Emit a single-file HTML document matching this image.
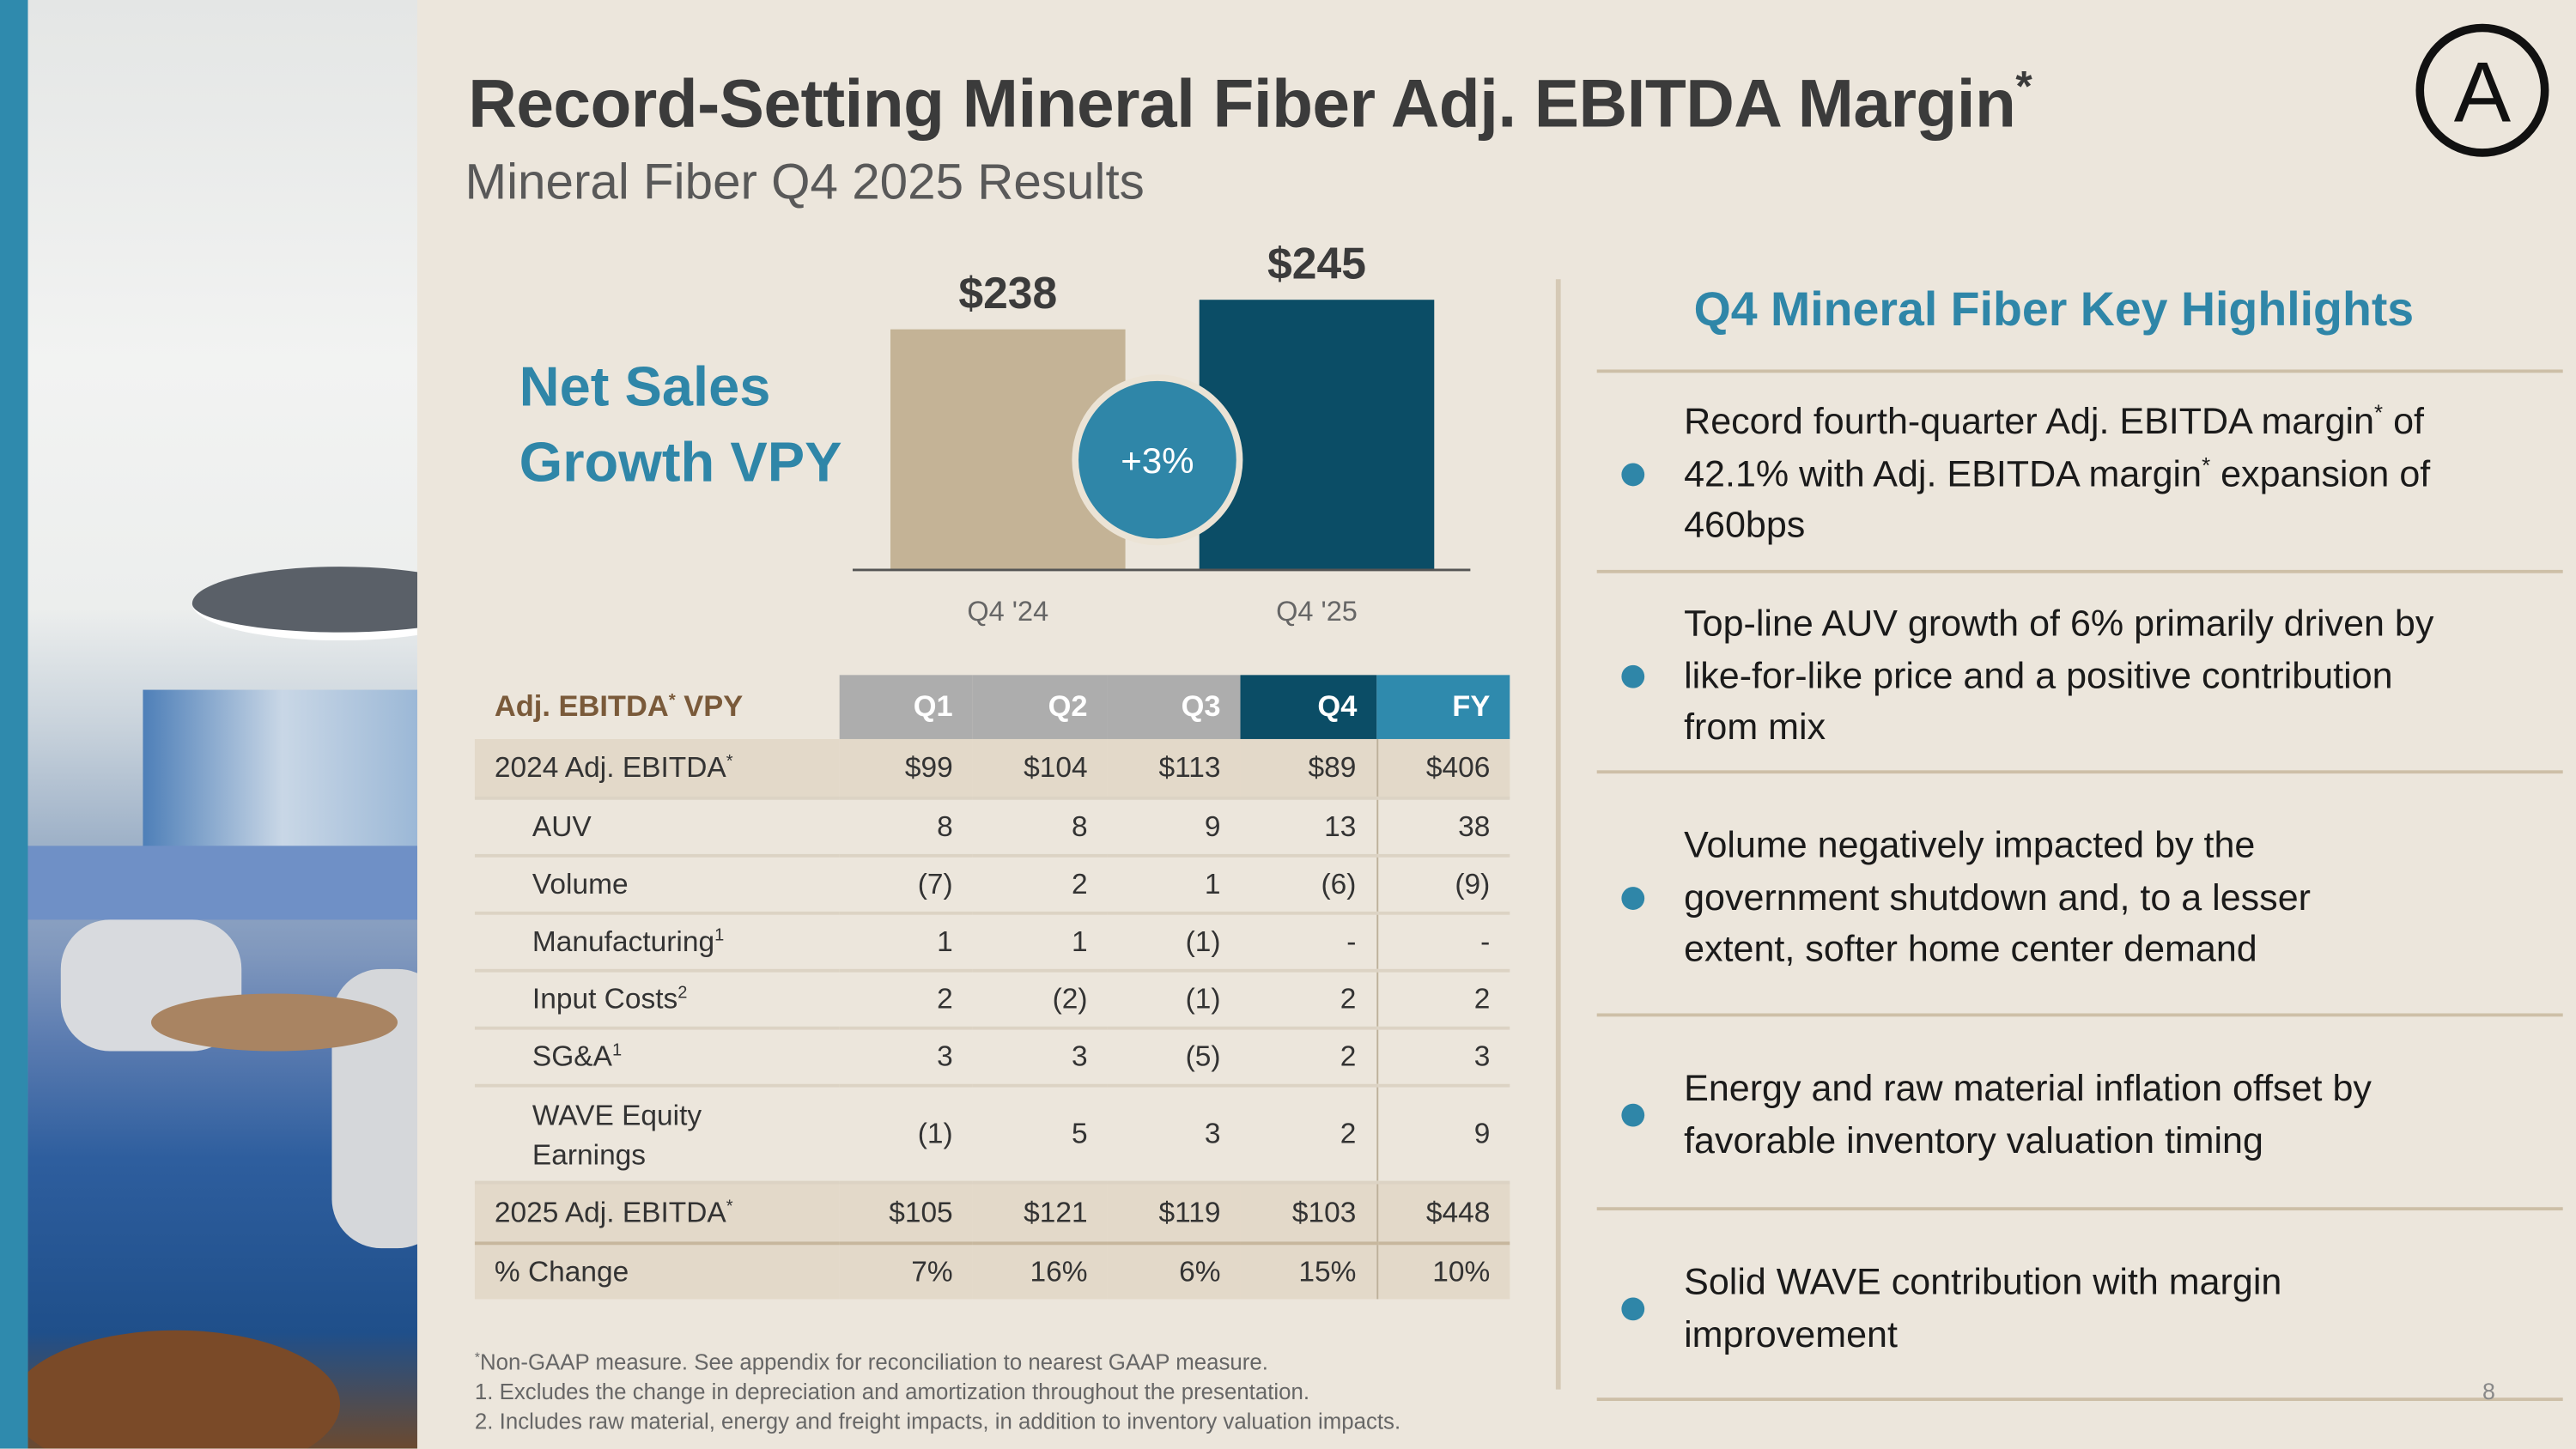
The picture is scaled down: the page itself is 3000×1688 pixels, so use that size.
<!DOCTYPE html>
<html><head><meta charset="utf-8">
<style>
html,body{margin:0;padding:0;}
body{width:3000px;height:1687px;overflow:hidden;background:#ece6dc;}
#s{position:absolute;left:0;top:0;width:1568px;height:882px;transform:scale(1.91327);transform-origin:0 0;background:#ece6dc;font-family:"Liberation Sans",sans-serif;color:#222;}
.a{position:absolute;white-space:nowrap;}
table{border-collapse:collapse;position:absolute;left:289px;top:411px;width:630px;font-size:17.5px;color:#333;table-layout:fixed;}
td{padding:0 12px 0 0;text-align:right;border-bottom:2px solid #dcd3c4;}
td:first-child{text-align:left;padding-left:12px;}
td.fy{border-left:1px solid #bdb09a;}
tr.f td{background:#e3d9c9;}
tr.i td:first-child{padding-left:35px;}
.hl{position:absolute;left:972px;width:588px;height:2px;background:#cdbfa7;}
.bt{position:absolute;left:1025px;width:500px;font-size:22.5px;line-height:31.5px;color:#1a1a1a;}
.dot{position:absolute;left:987px;width:14px;height:14px;border-radius:50%;background:#2f86a8;}
sup{font-size:60%;line-height:0;vertical-align:0.6em;}
</style></head><body>
<div id="s">
 <div class="a" style="left:0;top:0;width:17px;height:882px;background:#2f8aad"></div>
 <div class="a" style="left:17px;top:0;width:237px;height:882px;overflow:hidden;background:linear-gradient(180deg,#e4e6e5 0%,#f2f3f2 25%,#eceeed 42%,#c9d3dc 50%,#9fb2c8 58%,#7f97bd 66%,#5a7bb0 72%,#2e5e9e 80%,#1f4f8a 92%,#6b4a30 100%)">
  <div style="position:absolute;left:100px;top:345px;width:180px;height:40px;border-radius:50%;background:#5a6068;border-bottom:5px solid #fff"></div>
  <div style="position:absolute;left:70px;top:420px;width:170px;height:100px;background:linear-gradient(90deg,#4e7fb8,#c9d7e6,#9ab7d6)"></div>
  <div style="position:absolute;left:0;top:515px;width:237px;height:45px;background:#6f90c6"></div>
  <div style="position:absolute;left:20px;top:560px;width:110px;height:80px;border-radius:30px;background:#d8dade"></div>
  <div style="position:absolute;left:185px;top:590px;width:70px;height:170px;border-radius:30px;background:#d5d7da"></div>
  <div style="position:absolute;left:75px;top:605px;width:150px;height:35px;border-radius:50%;background:#a98462"></div>
  <div style="position:absolute;left:-10px;top:810px;width:200px;height:90px;border-radius:50%;background:#7a4a28"></div>
 </div>
 <div class="a" style="left:285px;top:40px;font-size:41px;font-weight:bold;color:#3b3b3b;letter-spacing:-0.3px">Record-Setting Mineral Fiber Adj. EBITDA Margin<sup style="font-size:26px">*</sup></div>
 <div class="a" style="left:283px;top:94px;font-size:30.5px;color:#595959">Mineral Fiber Q4 2025 Results</div>
 <svg class="a" style="left:1468px;top:12px" width="90" height="88"><circle cx="43" cy="43" r="38" fill="none" stroke="#111" stroke-width="5"/><text x="43" y="62" text-anchor="middle" font-family="Liberation Sans" font-size="52" fill="#111">A</text></svg>

 <div class="a" style="left:316px;top:213px;font-size:34px;font-weight:bold;color:#2f86a8;line-height:46px">Net Sales<br>Growth VPY</div>

 <svg class="a" id="chart" style="left:0;top:0" width="960" height="400"></svg>

 <table>
  <colgroup><col style="width:222px"><col style="width:81px"><col style="width:82px"><col style="width:81px"><col style="width:83px"><col style="width:81px"></colgroup>
  <tr style="height:39px;font-weight:bold;font-size:18px"><td style="color:#7a5a3a;border:none">Adj. EBITDA<sup>*</sup> VPY</td><td style="background:#adadad;color:#fff;border:none">Q1</td><td style="background:#adadad;color:#fff;border:none">Q2</td><td style="background:#adadad;color:#fff;border:none">Q3</td><td style="background:#0b4d66;color:#fff;border:none">Q4</td><td style="background:#2f8aad;color:#fff;border:none">FY</td></tr>
  <tr class="f" style="height:36px"><td>2024 Adj. EBITDA<sup>*</sup></td><td>$99</td><td>$104</td><td>$113</td><td>$89</td><td class="fy">$406</td></tr>
  <tr class="i" style="height:35px"><td>AUV</td><td>8</td><td>8</td><td>9</td><td>13</td><td class="fy">38</td></tr>
  <tr class="i" style="height:35px"><td>Volume</td><td>(7)</td><td>2</td><td>1</td><td>(6)</td><td class="fy">(9)</td></tr>
  <tr class="i" style="height:35px"><td>Manufacturing<sup>1</sup></td><td>1</td><td>1</td><td>(1)</td><td>-</td><td class="fy">-</td></tr>
  <tr class="i" style="height:35px"><td>Input Costs<sup>2</sup></td><td>2</td><td>(2)</td><td>(1)</td><td>2</td><td class="fy">2</td></tr>
  <tr class="i" style="height:35px"><td>SG&amp;A<sup>1</sup></td><td>3</td><td>3</td><td>(5)</td><td>2</td><td class="fy">3</td></tr>
  <tr class="i" style="height:59px"><td style="line-height:24px">WAVE Equity<br>Earnings</td><td>(1)</td><td>5</td><td>3</td><td>2</td><td class="fy">9</td></tr>
  <tr class="f" style="height:37px"><td style="border-bottom:2px solid #c7b79d">2025 Adj. EBITDA<sup>*</sup></td><td style="border-bottom:2px solid #c7b79d">$105</td><td style="border-bottom:2px solid #c7b79d">$121</td><td style="border-bottom:2px solid #c7b79d">$119</td><td style="border-bottom:2px solid #c7b79d">$103</td><td class="fy" style="border-bottom:2px solid #c7b79d">$448</td></tr>
  <tr class="f" style="height:34px"><td style="border:none">% Change</td><td style="border:none">7%</td><td style="border:none">16%</td><td style="border:none">6%</td><td style="border:none">15%</td><td class="fy" style="border-bottom:none">10%</td></tr>
 </table>

 <div class="a" style="left:289px;top:821px;font-size:13.5px;line-height:18px;color:#666"><sup>*</sup>Non-GAAP measure. See appendix for reconciliation to nearest GAAP measure.<br>1. Excludes the change in depreciation and amortization throughout the presentation.<br>2. Includes raw material, energy and freight impacts, in addition to inventory valuation impacts.</div>

 <div class="a" style="left:947px;top:170px;width:3px;height:676px;background:#d5c9b5"></div>
 <div class="a" style="left:1031px;top:173px;font-size:29px;font-weight:bold;color:#2f86a8">Q4 Mineral Fiber Key Highlights</div>
 <div class="hl" style="top:225px"></div>
 <div class="hl" style="top:347px"></div>
 <div class="hl" style="top:469px"></div>
 <div class="hl" style="top:617px"></div>
 <div class="hl" style="top:735px"></div>
 <div class="hl" style="top:851px"></div>

 <div class="dot" style="top:282px"></div>
 <div class="bt" style="top:241px">Record fourth-quarter Adj. EBITDA margin<sup>*</sup> of 42.1% with Adj. EBITDA margin<sup>*</sup> expansion of 460bps</div>
 <div class="dot" style="top:405px"></div>
 <div class="bt" style="top:364px;width:480px">Top-line AUV growth of 6% primarily driven by like&#8209;for&#8209;like price and a positive contribution from mix</div>
 <div class="dot" style="top:540px"></div>
 <div class="bt" style="top:499px;width:440px">Volume negatively impacted by the government shutdown and, to a lesser extent, softer home center demand</div>
 <div class="dot" style="top:672px"></div>
 <div class="bt" style="top:647px;width:480px">Energy and raw material inflation offset by favorable inventory valuation timing</div>
 <div class="dot" style="top:790px"></div>
 <div class="bt" style="top:765px;width:420px">Solid WAVE contribution with margin improvement</div>
 <div class="a" style="left:1511px;top:839px;font-size:14px;color:#888">8</div>
</div>
<script>
const categories = ["Q4 '24", "Q4 '25"];
const salesValues = [238, 245];
const valueLabels = ["$238", "$245"];
const growthLabel = "+3%";
const barColors = ["#c4b396", "#0b4d66"];

const svg = document.getElementById('chart');
const NS = 'http://www.w3.org/2000/svg';
const baseY = 347, x0 = 542, step = 188, bw = 143;
const yMin = 181, pxPerUnit = 2.57;
function yScale(v){ return baseY - (v - yMin) * pxPerUnit; }
function xScale(i){ return x0 + i * step; }
function mk(tag, attrs){ const e = document.createElementNS(NS, tag); for (const k in attrs) e.setAttribute(k, attrs[k]); svg.appendChild(e); return e; }

salesValues.forEach((v, i) => {
  const r = mk('rect', {x: xScale(i), y: yScale(v), width: bw, height: baseY - yScale(v), fill: barColors[i]});
  
  
  const t = mk('text', {x: xScale(i) + bw / 2, y: yScale(v) - 13, 'text-anchor': 'middle', 'font-size': 27, 'font-weight': 'bold', fill: '#3b3b3b', 'font-family': 'Liberation Sans'});
  t.textContent = valueLabels[i];
  
  
  const c = mk('text', {x: xScale(i) + bw / 2, y: 378, 'text-anchor': 'middle', 'font-size': 17, fill: '#666', 'font-family': 'Liberation Sans'});
  c.textContent = categories[i];
  
  
});
const ax = mk('line', {x1: 519, x2: 895, y1: baseY, y2: baseY, stroke: '#555', 'stroke-width': 1.5});


const cx = (xScale(0) + bw + xScale(1)) / 2;
const circ = mk('circle', {cx: cx - 3, cy: 280, r: 50, fill: '#2f86a8', stroke: '#ebe3d5', 'stroke-width': 4});


const gt = mk('text', {x: cx - 3, y: 288, 'text-anchor': 'middle', 'font-size': 22, fill: '#fff', 'font-family': 'Liberation Sans'});
gt.textContent = growthLabel;


</script>
</body></html>
